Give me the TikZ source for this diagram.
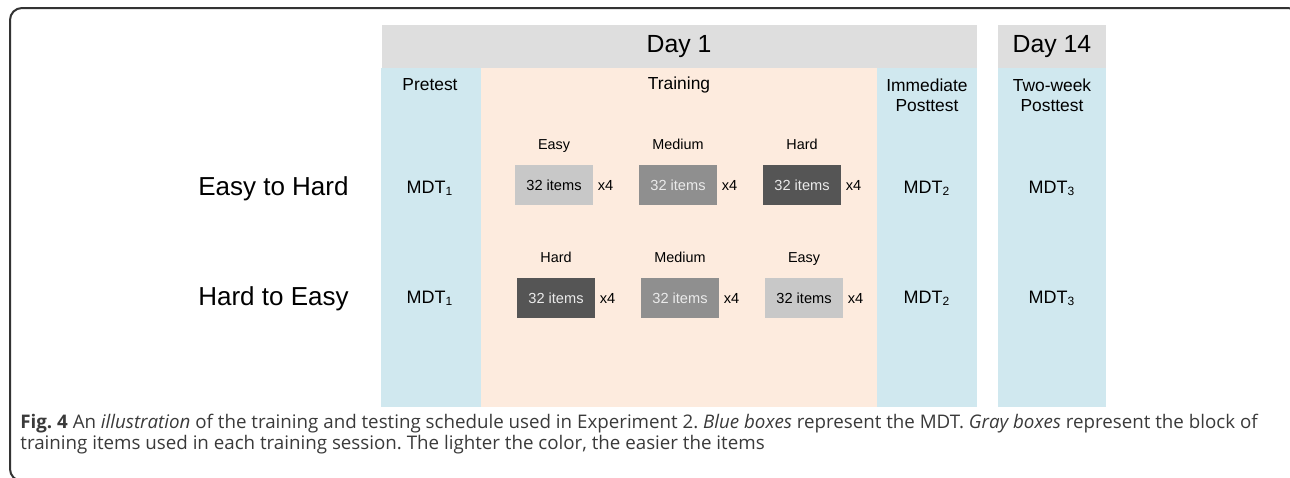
\documentclass[tikz,border=0pt]{standalone}
\usepackage{fontspec}
\setmainfont{Liberation Sans}
\newfontfamily\capfont{Open Sans}
\usetikzlibrary{positioning}

\definecolor{headgray}{HTML}{DEDEDE}
\definecolor{testblue}{HTML}{D0E8EF}
\definecolor{trainpeach}{HTML}{FDEBDE}
\definecolor{easygray}{HTML}{C8C8C8}
\definecolor{medgray}{HTML}{8F8F8F}
\definecolor{hardgray}{HTML}{555555}
\definecolor{captext}{HTML}{3A3A3A}

\frenchspacing

\begin{document}
\begin{tikzpicture}[x=0.5pt, y=-0.5pt,
  dayhead/.style={font=\fontsize{12.4}{14}\selectfont},
  colhead/.style={font=\fontsize{8.7}{10}\selectfont, align=center},
  mdt/.style={font=\fontsize{9}{11}\selectfont},
  grouplab/.style={font=\fontsize{13}{15}\selectfont, anchor=east, inner sep=0pt},
  level/.style={font=\fontsize{7.2}{9}\selectfont, inner sep=0pt, text height=1.5ex, text depth=.25ex},
  block/.style={minimum width=39pt, minimum height=20pt, inner sep=0pt, font=\fontsize{7.3}{9}\selectfont},
  easyblock/.style={block, fill=easygray},
  medblock/.style={block, fill=medgray, text=white!92!black},
  hardblock/.style={block, fill=hardgray, text=white!92!black},
  reps/.style={font=\fontsize{7.3}{9}\selectfont, inner sep=0pt}]

\useasboundingbox (0,0) rectangle (1290,477);
\clip (0,0) rectangle (1290,477);

% frame
\draw [line width=1pt, black!80, rounded corners=6pt] (1300,30) |- (10,8) |- (40,481);

% day 1 and day 14 columns
\fill [headgray] (382,25) rectangle (977,68);
\fill [testblue] (381,68) rectangle (481,407);
\fill [trainpeach] (481,68) rectangle (877,407);
\fill [testblue] (877,68) rectangle (977,407);
\fill [headgray] (998,25) rectangle (1106,68);
\fill [testblue] (998,68) rectangle (1106,407);

\node [dayhead] (day1) at (679,47) {Day 1};
\node [dayhead] (day14) at (1052,47) {Day 14};

\node [colhead] (pre) at (430,85) {Pretest};
\node [colhead] (train) at (679,85) {Training};
\node [colhead] (post) at (927,95) {Immediate\\Posttest};
\node [colhead] (late) at (1052,95) {Two-week\\Posttest};

% easy to hard
\node [grouplab] (eth) at (349,189) {Easy to Hard};
\node [mdt] (pre1) at (430,188) {MDT\textsubscript{1}};
\node [easyblock] (e1) at (554,185) {32 items};
\node [medblock] (m1) at (678,185) {32 items};
\node [hardblock] (h1) at (802,185) {32 items};
\node [level, above=6pt of e1] (le1) {Easy};
\node [level, above=6pt of m1] (lm1) {Medium};
\node [level, above=6pt of h1] (lh1) {Hard};
\node [reps, right=2pt of e1] (re1) {x4};
\node [reps, right=2pt of m1] (rm1) {x4};
\node [reps, right=2pt of h1] (rh1) {x4};
\node [mdt] (post1) at (927,188) {MDT\textsubscript{2}};
\node [mdt] (late1) at (1052,188) {MDT\textsubscript{3}};

% hard to easy
\node [grouplab] (hte) at (349,299) {Hard to Easy};
\node [mdt] (pre2) at (430,298) {MDT\textsubscript{1}};
\node [hardblock] (h2) at (556,298) {32 items};
\node [medblock] (m2) at (680,298) {32 items};
\node [easyblock] (e2) at (804,298) {32 items};
\node [level, above=6pt of h2] (lh2) {Hard};
\node [level, above=6pt of m2] (lm2) {Medium};
\node [level, above=6pt of e2] (le2) {Easy};
\node [reps, right=2pt of h2] (rh2) {x4};
\node [reps, right=2pt of m2] (rm2) {x4};
\node [reps, right=2pt of e2] (re2) {x4};
\node [mdt] (post2) at (927,298) {MDT\textsubscript{2}};
\node [mdt] (late2) at (1052,298) {MDT\textsubscript{3}};

% caption
\node [anchor=north west, inner sep=0pt, align=left, text=captext,
  font=\capfont\fontsize{9.37}{10.5}\selectfont] (cap) at (20,414)
  {\textbf{Fig. 4} An \textit{illustration} of the training and testing schedule used in Experiment 2. \textit{Blue boxes} represent the MDT. \textit{Gray boxes} represent the block of\\
   training items used in each training session. The lighter the color, the easier the items};

\end{tikzpicture}
\end{document}
